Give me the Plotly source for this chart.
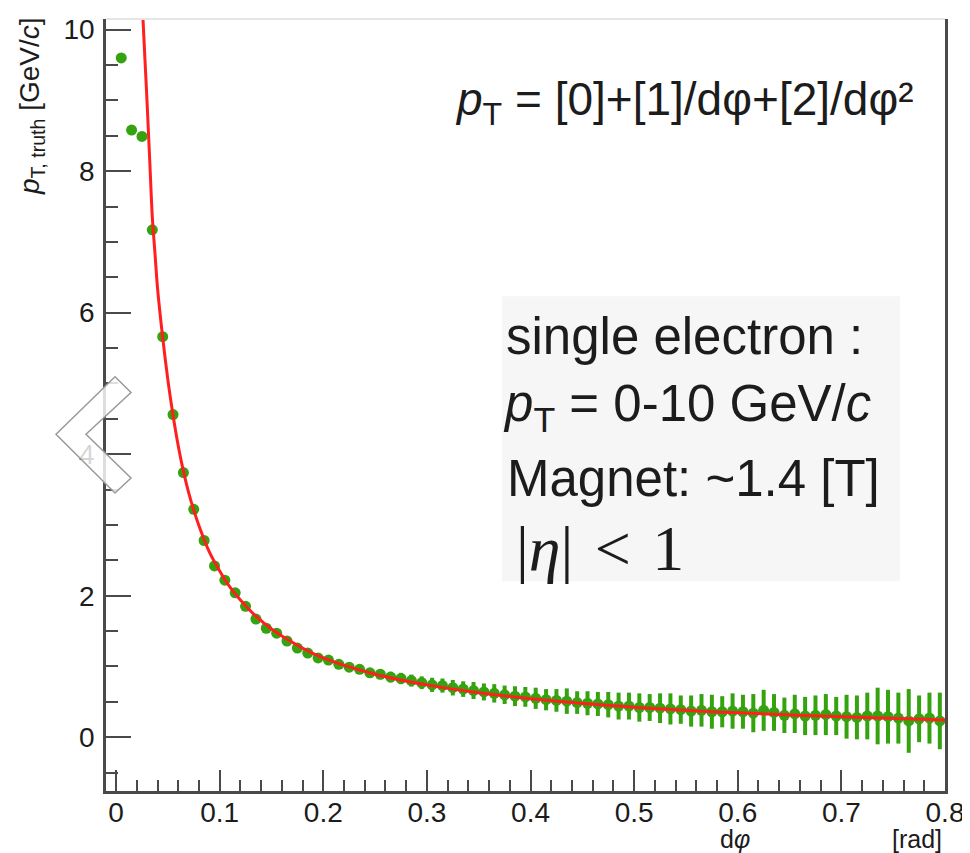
import plotly.graph_objects as go

# ---------------- data ----------------
BIN_LO, BIN_W, N_BINS = 0.0, 0.01, 80
dphi = [round(BIN_LO + BIN_W * (i + 0.5), 4) for i in range(N_BINS)]

pt_truth = [
    9.60, 8.58, 8.49, 7.17, 5.66, 4.56, 3.74, 3.22, 2.78, 2.42,
    2.22, 2.04, 1.85, 1.67, 1.54, 1.47, 1.36, 1.26, 1.19, 1.12,
    1.09, 1.03, 0.99, 0.96, 0.91, 0.89, 0.85, 0.83, 0.80, 0.77,
    0.74, 0.73, 0.70, 0.68, 0.66, 0.64, 0.62, 0.60, 0.58, 0.57,
    0.55, 0.53, 0.52, 0.51, 0.49, 0.48, 0.47, 0.46, 0.44, 0.44,
    0.42, 0.42, 0.41, 0.40, 0.39, 0.37, 0.38, 0.36, 0.36, 0.37,
    0.36, 0.34, 0.38, 0.35, 0.31, 0.33, 0.30, 0.31, 0.32, 0.30,
    0.29, 0.28, 0.30, 0.30, 0.29, 0.27, 0.23, 0.26, 0.27, 0.23,
]

pt_err = [
    0.02, 0.02, 0.02, 0.02, 0.02, 0.02, 0.02, 0.02, 0.02, 0.02,
    0.02, 0.02, 0.02, 0.025, 0.03, 0.03, 0.035, 0.04, 0.04, 0.045,
    0.05, 0.05, 0.055, 0.06, 0.065, 0.07, 0.075, 0.08, 0.085, 0.09,
    0.10, 0.10, 0.11, 0.11, 0.12, 0.12, 0.13, 0.13, 0.14, 0.14,
    0.15, 0.15, 0.16, 0.18, 0.16, 0.17, 0.17, 0.18, 0.19, 0.19,
    0.20, 0.19, 0.21, 0.22, 0.20, 0.22, 0.23, 0.24, 0.22, 0.25,
    0.24, 0.27, 0.29, 0.26, 0.25, 0.27, 0.27, 0.28, 0.29, 0.27,
    0.31, 0.31, 0.33, 0.40, 0.38, 0.36, 0.45, 0.33, 0.36, 0.40,
]

# fitted curve
fit_x = [0.0255, 0.028, 0.030, 0.0325, 0.035, 0.0375, 0.040, 0.045, 0.050,
         0.055, 0.060, 0.065, 0.070, 0.075, 0.080, 0.090, 0.100, 0.110,
         0.120, 0.135, 0.150, 0.175, 0.200, 0.250, 0.300, 0.350, 0.400,
         0.500, 0.600, 0.700, 0.800]
fit_y = [10.3, 9.55, 8.95, 8.15, 7.35, 6.85, 6.35, 5.65, 5.05,
         4.55, 4.12, 3.76, 3.46, 3.21, 2.99, 2.62, 2.35, 2.12,
         1.94, 1.71, 1.53, 1.30, 1.12, 0.89, 0.74, 0.63, 0.545,
         0.425, 0.345, 0.29, 0.245]

x_ticks = [0, 0.1, 0.2, 0.3, 0.4, 0.5, 0.6, 0.7, 0.8]
x_ticktext = ["0", "0.1", "0.2", "0.3", "0.4", "0.5", "0.6", "0.7", "0.8"]
y_ticks = [0, 2, 4, 6, 8, 10]
y_ticktext = ["0", "2", "4", "6", "8", "10"]

# ---------------- layout geometry (page pixels) ----------------
PAGE_W, PAGE_H = 970, 853
BODY = 8                       # default page body margin
W, H = PAGE_W - BODY, PAGE_H - BODY
PLOT_L, PLOT_T, PLOT_R, PLOT_B = 106, 14, 945, 791   # absolute page px
L, T = PLOT_L - BODY, PLOT_T - BODY
R = W - (PLOT_R - BODY)
B = H - (PLOT_B - BODY)
PW, PH = PLOT_R - PLOT_L, PLOT_B - PLOT_T


def px(xp):
    return (xp - PLOT_L) / PW


def py(yp):
    return (PLOT_B - yp) / PH


GREEN = "#35a20f"
RED = "#ff1f1f"
AX = "#4a4a4a"
TXT = "#1c1c1c"
SANS = "Liberation Sans, Arial, Helvetica, sans-serif"
SERIF = "Liberation Serif, Times New Roman, serif"

fig = go.Figure()

fig.add_trace(go.Scatter(
    x=dphi, y=pt_truth, mode="markers",
    marker=dict(color=GREEN, size=11),
    error_y=dict(type="data", array=pt_err, visible=True,
                 color=GREEN, thickness=4, width=0),
    showlegend=False, cliponaxis=True,
))

fig.add_trace(go.Scatter(
    x=fit_x, y=fit_y, mode="lines",
    line=dict(color=RED, width=3, shape="spline", smoothing=0.8),
    showlegend=False,
))

fig.update_xaxes(
    range=[-0.0097, 0.8], tickvals=x_ticks, ticktext=x_ticktext,
    ticks="inside", ticklen=21, tickwidth=2, tickcolor=AX,
    minor=dict(dtick=0.02, tick0=0, ticks="inside", ticklen=11,
               tickwidth=2, tickcolor=AX),
    showline=True, linecolor=AX, linewidth=2.5, mirror=False,
    showgrid=False, zeroline=False,
    tickfont=dict(family=SANS, size=28, color=TXT),
    ticklabelstandoff=-5,
)
fig.update_yaxes(
    range=[-0.76, 10.15], tickvals=y_ticks, ticktext=y_ticktext,
    ticks="inside", ticklen=25, tickwidth=2, tickcolor=AX,
    minor=dict(dtick=0.5, tick0=0, ticks="inside", ticklen=12,
               tickwidth=2, tickcolor=AX),
    showline=True, linecolor=AX, linewidth=2.5, mirror=True,
    showgrid=False, zeroline=False,
    tickfont=dict(family=SANS, size=28, color=TXT),
    ticklabelstandoff=3,
)

shapes = []
# faint top frame line
shapes.append(dict(type="line", xref="paper", yref="paper",
                   x0=0, x1=1, y0=1, y1=1,
                   line=dict(color="#e6e6e6", width=2)))
# info box
shapes.append(dict(type="rect", xref="paper", yref="paper",
                   x0=px(502), x1=px(900), y0=py(580), y1=py(293),
                   fillcolor="#f6f6f6", line=dict(width=0), layer="above"))
# navigation chevron overlay
chev = [(56, 432), (115, 374), (131, 390), (86, 432), (131, 476), (115, 491)]
path = "M " + " L ".join(f"{px(a):.5f},{py(b):.5f}" for a, b in chev) + " Z"
shapes.append(dict(type="path", xref="paper", yref="paper", path=path,
                   fillcolor="rgba(255,255,255,0.82)",
                   line=dict(color="#9a9a9a", width=1.5), layer="above"))

annotations = [
    # y-axis title
    dict(text="<i>p</i><sub>T, truth</sub> [GeV/<i>c</i>]", textangle=-90,
         xref="paper", yref="paper", x=px(31), y=py(10),
         xanchor="center", yanchor="top", showarrow=False,
         font=dict(family=SANS, size=28, color=TXT)),
    # x-axis title pieces
    dict(text="d<i>φ</i>", xref="paper", yref="paper", x=px(735), y=py(839),
         xanchor="center", yanchor="middle", showarrow=False,
         font=dict(family=SANS, size=25, color=TXT)),
    dict(text="[rad]", xref="paper", yref="paper", x=px(944), y=py(839),
         xanchor="right", yanchor="middle", showarrow=False,
         font=dict(family=SANS, size=25, color=TXT)),
    # fit formula
    dict(text="<i>p</i><sub>T</sub> = [0]+[1]/dφ+[2]/dφ²",
         xref="paper", yref="paper", x=px(916), y=py(98),
         xanchor="right", yanchor="middle", showarrow=False,
         font=dict(family=SANS, size=46, color=TXT)),
    # info box lines
    dict(text="single electron :", xref="paper", yref="paper",
         x=px(504), y=py(334), xanchor="left", yanchor="middle",
         showarrow=False, font=dict(family=SANS, size=51, color=TXT)),
    dict(text="<i>p</i><sub>T</sub> = 0-10 GeV/<i>c</i>", xref="paper", yref="paper",
         x=px(501), y=py(405), xanchor="left", yanchor="middle",
         showarrow=False, font=dict(family=SANS, size=51, color=TXT)),
    dict(text="Magnet: ~1.4 [T]", xref="paper", yref="paper",
         x=px(505), y=py(476), xanchor="left", yanchor="middle",
         showarrow=False, font=dict(family=SANS, size=51, color=TXT)),
    dict(text="|<i>η</i>| &#8202;&lt; &#8202;1", xref="paper", yref="paper",
         x=px(514), y=py(547), xanchor="left", yanchor="middle",
         showarrow=False, font=dict(family=SERIF, size=64, color=TXT)),
]

fig.update_layout(
    width=W, height=H, autosize=False,
    margin=dict(l=L, r=R, t=T, b=B, pad=0),
    paper_bgcolor="white", plot_bgcolor="white",
    shapes=shapes, annotations=annotations,
    showlegend=False,
)

fig.write_html("out.html")
